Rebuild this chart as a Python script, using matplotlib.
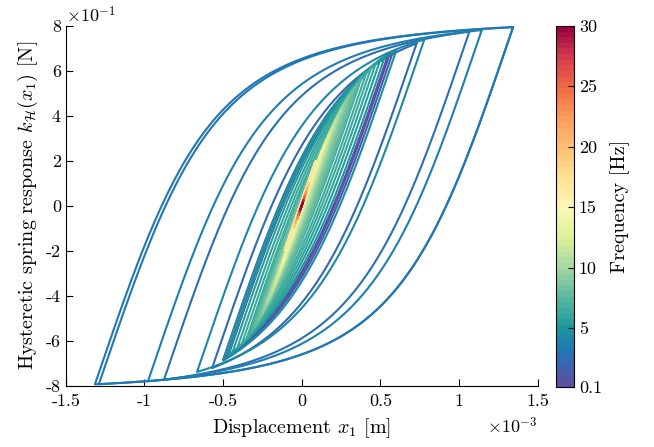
import numpy as np
import matplotlib
matplotlib.use('Agg')
import matplotlib.pyplot as plt
from matplotlib.colors import Normalize, LinearSegmentedColormap
from matplotlib.ticker import FuncFormatter
import matplotlib.cm as cm

plt.rcParams['font.family'] = 'serif'
plt.rcParams['font.serif'] = ['cmr10']
plt.rcParams['mathtext.fontset'] = 'cm'
plt.rcParams['axes.unicode_minus'] = False
plt.rcParams['axes.formatter.use_mathtext'] = True

# excitation frequency of each loop [Hz] and its turning points [mm]
loop_freq = [0.1, 0.5, 1.0, 1.5, 2.0, 2.5, 3.0, 3.3, 3.6, 4.0, 4.5,
             5.0, 5.4, 5.8, 6.2, 6.6, 7.0,
             7.3, 7.6, 7.9, 8.2, 8.5, 8.8, 9.1, 9.4, 9.7, 10.0,
             10.3, 10.6, 10.9, 11.2, 11.5, 11.8, 12.1, 12.5, 13.0, 13.5,
             15.0, 16.0, 17.0, 19.0, 21.0, 23.0, 25.0, 27.0, 29.0, 30.0]
loop_xmin = [-0.47, -0.47, -0.48, -0.50, -0.57, -0.876, -1.29, -1.315, -0.978, -0.666, -0.50,
             -0.47, -0.44, -0.41, -0.38, -0.35, -0.33,
             -0.31, -0.30, -0.29, -0.28, -0.27, -0.26, -0.25, -0.24, -0.23, -0.22,
             -0.21, -0.20, -0.19, -0.18, -0.17, -0.16, -0.15, -0.14, -0.13, -0.12,
             -0.108, -0.107, -0.105, -0.05, -0.04, -0.03, -0.022, -0.016, -0.012, -0.008]
loop_xmax = [0.55, 0.55, 0.56, 0.58, 0.73, 1.065, 1.343, 1.343, 1.144, 0.779, 0.60,
             0.53, 0.50, 0.47, 0.44, 0.41, 0.38,
             0.36, 0.35, 0.335, 0.325, 0.31, 0.30, 0.285, 0.275, 0.26, 0.25,
             0.24, 0.23, 0.215, 0.205, 0.19, 0.18, 0.17, 0.155, 0.145, 0.13,
             0.088, 0.086, 0.084, 0.045, 0.035, 0.028, 0.02, 0.014, 0.01, 0.007]

# hysteretic spring: initial stiffness [N/m], saturation force [N], sharpness
k0 = 2050.0
f_sat = 0.815
r_exp = 2.3

freq_ticks = [0.1, 5, 10, 15, 20, 25, 30]

# colour scale (frequency [Hz], colour)
cb_freq = [0.1, 1.5, 3.0, 5.0, 7.5, 10.0, 12.5, 15.0, 17.5, 20.0, 22.5, 25.0, 27.5, 30.0]
cb_colors = ['#5e4fa2', '#3d62ad', '#1f78b4', '#1c9a9c', '#5cb9a0', '#a5d8a2', '#e0f19a',
             '#fbf6b5', '#fee294', '#fdbf6f', '#fb9d59', '#f26a44', '#d53e4f', '#9e0142']


def backbone(u):
    return k0 * u / (1 + np.abs(k0 * u / f_sat) ** r_exp) ** (1 / r_exp)


def loop(xmin, xmax, n=200):
    a = (xmax - xmin) / 2
    ft = backbone(a)
    xd = np.linspace(xmax, xmin, n)
    fd = ft - 2 * backbone((xmax - xd) / 2)
    xu = np.linspace(xmin, xmax, n)
    fu = -ft + 2 * backbone((xu - xmin) / 2)
    return np.concatenate([xd, xu]), np.concatenate([fd, fu])


fig = plt.figure(figsize=(6.54, 4.47), dpi=100)
ax = fig.add_axes([0.1006, 0.1371, 0.7217, 0.8054])
cax = fig.add_axes([0.8502, 0.134, 0.0275, 0.808])

pos = [(f - cb_freq[0]) / (cb_freq[-1] - cb_freq[0]) for f in cb_freq]
cmap = LinearSegmentedColormap.from_list('freq', list(zip(pos, cb_colors)), N=64)
norm = Normalize(vmin=0.1, vmax=30)

for f, lo, hi in zip(loop_freq, loop_xmin, loop_xmax):
    x, F = loop(lo * 1e-3, hi * 1e-3)
    ax.plot(x, F, color=cmap(norm(f)), lw=1.5, solid_capstyle='round')

ax.set_xlim(-1.5e-3, 1.5e-3)
ax.set_ylim(-0.8, 0.8)
ax.set_xticks(np.arange(-1.5e-3, 1.6e-3, 0.5e-3))
ax.set_yticks(np.arange(-0.8, 0.81, 0.2))
ax.xaxis.set_major_formatter(FuncFormatter(lambda v, p: f"{round(v * 1e3, 2) + 0.0:g}"))
ax.yaxis.set_major_formatter(FuncFormatter(lambda v, p: f"{round(v * 10, 2) + 0.0:g}"))
for s in ['top', 'right']:
    ax.spines[s].set_visible(False)
ax.tick_params(direction='in', length=5, labelsize=13, width=0.8)
ax.tick_params(axis='x', pad=6)
ax.set_xlabel(r'Displacement $x_1$ [m]', fontsize=14.5, labelpad=5)
ax.set_ylabel(r'Hysteretic spring response $k_{\mathcal{H}}(x_1)$ [N]', fontsize=14.5, labelpad=4)
ax.text(1.0, -0.085, r'$\times10^{-3}$', transform=ax.transAxes, ha='right', va='top', fontsize=13)
ax.text(0.0, 1.0, r'$\times10^{-1}$', transform=ax.transAxes, ha='left', va='bottom', fontsize=13)

sm = cm.ScalarMappable(norm=norm, cmap=cmap)
cb = fig.colorbar(sm, cax=cax, ticks=freq_ticks)
cb.ax.set_yticklabels([f"{t:g}" for t in freq_ticks])
cb.ax.tick_params(direction='in', length=4, labelsize=13, width=0.8)
cb.set_label('Frequency [Hz]', fontsize=14.5, labelpad=6)

fig.savefig('out.png', dpi=100)
